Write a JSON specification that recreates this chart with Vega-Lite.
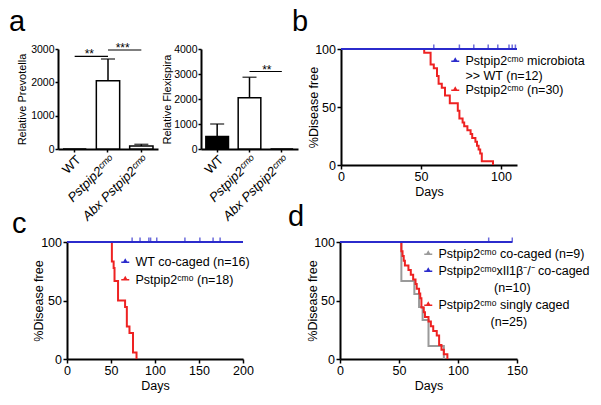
{
  "$schema": "https://vega.github.io/schema/vega-lite/v6.json",
  "padding": {"left": 9, "top": 7, "right": 2, "bottom": 2},
  "datasets": {
    "prev": [
      {"group": "WT", "mean": 0, "upper": 0},
      {"group": "Pstpip2ᶜᵐᵒ", "mean": 2050, "upper": 2700},
      {"group": "Abx Pstpip2ᶜᵐᵒ", "mean": 90, "upper": 140}
    ],
    "prev_sig": [
      {"from": "WT", "to": "Pstpip2ᶜᵐᵒ", "level": 2780, "label": "**"},
      {"from": "Pstpip2ᶜᵐᵒ", "to": "Abx Pstpip2ᶜᵐᵒ", "level": 2970, "label": "***"}
    ],
    "flex": [
      {"group": "WT", "mean": 500, "upper": 1000},
      {"group": "Pstpip2ᶜᵐᵒ", "mean": 2050, "upper": 2870},
      {"group": "Abx Pstpip2ᶜᵐᵒ", "mean": 0, "upper": 0}
    ],
    "flex_sig": [
      {"from": "Pstpip2ᶜᵐᵒ", "to": "Abx Pstpip2ᶜᵐᵒ", "level": 3100, "label": "**"}
    ],
    "km_b": [
      {"series": "Pstpip2ᶜᵐᵒ (n=30)", "day": 0, "surv": 100},
      {"series": "Pstpip2ᶜᵐᵒ (n=30)", "day": 52, "surv": 96.7},
      {"series": "Pstpip2ᶜᵐᵒ (n=30)", "day": 56, "surv": 86.7},
      {"series": "Pstpip2ᶜᵐᵒ (n=30)", "day": 58, "surv": 83.3},
      {"series": "Pstpip2ᶜᵐᵒ (n=30)", "day": 60, "surv": 76.7},
      {"series": "Pstpip2ᶜᵐᵒ (n=30)", "day": 61, "surv": 70},
      {"series": "Pstpip2ᶜᵐᵒ (n=30)", "day": 63, "surv": 66.7},
      {"series": "Pstpip2ᶜᵐᵒ (n=30)", "day": 65, "surv": 60},
      {"series": "Pstpip2ᶜᵐᵒ (n=30)", "day": 68, "surv": 53.3},
      {"series": "Pstpip2ᶜᵐᵒ (n=30)", "day": 73, "surv": 46.7},
      {"series": "Pstpip2ᶜᵐᵒ (n=30)", "day": 74, "surv": 40},
      {"series": "Pstpip2ᶜᵐᵒ (n=30)", "day": 76, "surv": 36.7},
      {"series": "Pstpip2ᶜᵐᵒ (n=30)", "day": 77, "surv": 33.3},
      {"series": "Pstpip2ᶜᵐᵒ (n=30)", "day": 79, "surv": 30},
      {"series": "Pstpip2ᶜᵐᵒ (n=30)", "day": 81, "surv": 26.7},
      {"series": "Pstpip2ᶜᵐᵒ (n=30)", "day": 82, "surv": 23.3},
      {"series": "Pstpip2ᶜᵐᵒ (n=30)", "day": 84, "surv": 20},
      {"series": "Pstpip2ᶜᵐᵒ (n=30)", "day": 85, "surv": 16.7},
      {"series": "Pstpip2ᶜᵐᵒ (n=30)", "day": 86, "surv": 13.3},
      {"series": "Pstpip2ᶜᵐᵒ (n=30)", "day": 87, "surv": 10},
      {"series": "Pstpip2ᶜᵐᵒ (n=30)", "day": 88, "surv": 3.3},
      {"series": "Pstpip2ᶜᵐᵒ (n=30)", "day": 95, "surv": 0},
      {"series": "Pstpip2ᶜᵐᵒ microbiota", "day": 0, "surv": 100},
      {"series": "Pstpip2ᶜᵐᵒ microbiota", "day": 110, "surv": 100}
    ],
    "cens_b": [{"day": 58}, {"day": 74}, {"day": 83}, {"day": 92}, {"day": 98}, {"day": 105}, {"day": 107}, {"day": 109}],
    "km_c": [
      {"series": "Pstpip2ᶜᵐᵒ (n=18)", "day": 0, "surv": 100},
      {"series": "Pstpip2ᶜᵐᵒ (n=18)", "day": 51, "surv": 83.3},
      {"series": "Pstpip2ᶜᵐᵒ (n=18)", "day": 53, "surv": 77.8},
      {"series": "Pstpip2ᶜᵐᵒ (n=18)", "day": 54, "surv": 66.7},
      {"series": "Pstpip2ᶜᵐᵒ (n=18)", "day": 58, "surv": 50},
      {"series": "Pstpip2ᶜᵐᵒ (n=18)", "day": 66, "surv": 44.4},
      {"series": "Pstpip2ᶜᵐᵒ (n=18)", "day": 68, "surv": 27.8},
      {"series": "Pstpip2ᶜᵐᵒ (n=18)", "day": 71, "surv": 22.2},
      {"series": "Pstpip2ᶜᵐᵒ (n=18)", "day": 75, "surv": 5.6},
      {"series": "Pstpip2ᶜᵐᵒ (n=18)", "day": 79, "surv": 0},
      {"series": "WT co-caged (n=16)", "day": 0, "surv": 100},
      {"series": "WT co-caged (n=16)", "day": 200, "surv": 100}
    ],
    "cens_c": [{"day": 74}, {"day": 83}, {"day": 93}, {"day": 95}, {"day": 102}, {"day": 134}, {"day": 151}, {"day": 166}, {"day": 174}],
    "km_d": [
      {"series": "Pstpip2ᶜᵐᵒ co-caged (n=9)", "day": 0, "surv": 100},
      {"series": "Pstpip2ᶜᵐᵒ co-caged (n=9)", "day": 52, "surv": 66.7},
      {"series": "Pstpip2ᶜᵐᵒ co-caged (n=9)", "day": 63, "surv": 55.6},
      {"series": "Pstpip2ᶜᵐᵒ co-caged (n=9)", "day": 67, "surv": 44.4},
      {"series": "Pstpip2ᶜᵐᵒ co-caged (n=9)", "day": 70, "surv": 33.3},
      {"series": "Pstpip2ᶜᵐᵒ co-caged (n=9)", "day": 75, "surv": 11.1},
      {"series": "Pstpip2ᶜᵐᵒ co-caged (n=9)", "day": 88, "surv": 0},
      {"series": "Pstpip2ᶜᵐᵒ singly caged", "day": 0, "surv": 100},
      {"series": "Pstpip2ᶜᵐᵒ singly caged", "day": 52, "surv": 92},
      {"series": "Pstpip2ᶜᵐᵒ singly caged", "day": 53, "surv": 88},
      {"series": "Pstpip2ᶜᵐᵒ singly caged", "day": 54, "surv": 84},
      {"series": "Pstpip2ᶜᵐᵒ singly caged", "day": 55, "surv": 80},
      {"series": "Pstpip2ᶜᵐᵒ singly caged", "day": 58, "surv": 76},
      {"series": "Pstpip2ᶜᵐᵒ singly caged", "day": 60, "surv": 72},
      {"series": "Pstpip2ᶜᵐᵒ singly caged", "day": 62, "surv": 68},
      {"series": "Pstpip2ᶜᵐᵒ singly caged", "day": 64, "surv": 64},
      {"series": "Pstpip2ᶜᵐᵒ singly caged", "day": 65, "surv": 60},
      {"series": "Pstpip2ᶜᵐᵒ singly caged", "day": 67, "surv": 56},
      {"series": "Pstpip2ᶜᵐᵒ singly caged", "day": 68, "surv": 52},
      {"series": "Pstpip2ᶜᵐᵒ singly caged", "day": 69, "surv": 44},
      {"series": "Pstpip2ᶜᵐᵒ singly caged", "day": 71, "surv": 40},
      {"series": "Pstpip2ᶜᵐᵒ singly caged", "day": 72, "surv": 36},
      {"series": "Pstpip2ᶜᵐᵒ singly caged", "day": 75, "surv": 32},
      {"series": "Pstpip2ᶜᵐᵒ singly caged", "day": 77, "surv": 28},
      {"series": "Pstpip2ᶜᵐᵒ singly caged", "day": 79, "surv": 24},
      {"series": "Pstpip2ᶜᵐᵒ singly caged", "day": 82, "surv": 20},
      {"series": "Pstpip2ᶜᵐᵒ singly caged", "day": 84, "surv": 12},
      {"series": "Pstpip2ᶜᵐᵒ singly caged", "day": 86, "surv": 8},
      {"series": "Pstpip2ᶜᵐᵒ singly caged", "day": 88, "surv": 4},
      {"series": "Pstpip2ᶜᵐᵒ singly caged", "day": 91, "surv": 0},
      {"series": "Pstpip2ᶜᵐᵒxIl1β⁻/⁻ co-caged", "day": 0, "surv": 100},
      {"series": "Pstpip2ᶜᵐᵒxIl1β⁻/⁻ co-caged", "day": 146, "surv": 100}
    ],
    "cens_d": [{"day": 126}, {"day": 146}]
  },
  "vconcat": [
    {
      "hconcat": [
        {
          "width": 100, "height": 100,
          "title": {"text": "a", "anchor": "start", "frame": "group", "fontSize": 29, "fontWeight": "normal", "font": "Liberation Sans", "color": "black", "baseline": "alphabetic", "dx": -49, "offset": -17.5},
          "encoding": {
            "x": {"field": "group", "type": "nominal", "sort": null,
              "scale": {"domain": ["WT", "Pstpip2ᶜᵐᵒ", "Abx Pstpip2ᶜᵐᵒ"], "paddingInner": 0.3, "paddingOuter": 0.15},
              "axis": {"title": null, "labelAngle": -45, "labelFontSize": 13, "tickSize": 3, "labelPadding": 1,
                "labelFontStyle": {"condition": {"test": "datum.value == 'WT'", "value": "normal"}, "value": "italic"}}},
            "y": {"field": "mean", "type": "quantitative", "scale": {"domain": [0, 3000], "nice": false},
              "axis": {"tickCount": 3, "format": "d", "labelOverlap": false, "title": "Relative Prevotella", "labelFontSize": 10.5, "titleFontSize": 11, "tickSize": 3, "labelPadding": 1, "titlePadding": 3}}
          },
          "layer": [
            {
              "data": {"name": "prev"},
              "mark": {"type": "bar", "stroke": "black", "strokeWidth": 1.5},
              "encoding": {
                "fill": {"condition": {"test": "datum.group == 'WT'", "value": "black"}, "value": "white"}
              }
            },
            {
              "data": {"name": "prev"},
              "transform": [{"filter": "datum.upper > datum.mean"}],
              "mark": {"type": "rule", "strokeWidth": 1.5, "color": "black"},
              "encoding": {"y2": {"field": "upper"}}
            },
            {
              "data": {"name": "prev"},
              "transform": [{"filter": "datum.upper > datum.mean"}],
              "mark": {"type": "tick", "orient": "horizontal", "size": 14, "thickness": 1.5, "color": "black"},
              "encoding": {"y": {"field": "upper", "type": "quantitative"}}
            },
            {
              "data": {"name": "prev_sig"},
              "mark": {"type": "rule", "strokeWidth": 1.2, "color": "black"},
              "encoding": {
                "x": {"field": "from", "type": "nominal"},
                "x2": {"field": "to"},
                "y": {"field": "level", "type": "quantitative"}
              }
            },
            {
              "data": {"name": "prev_sig"},
              "mark": {"type": "text", "fontSize": 12, "baseline": "alphabetic", "dy": 2, "dx": 3, "color": "black"},
              "encoding": {
                "x": {"field": "from", "type": "nominal", "bandPosition": 1},
                "y": {"field": "level", "type": "quantitative"},
                "text": {"field": "label"}
              }
            }
          ]
        },
        {
          "width": 97, "height": 100,
          "encoding": {
            "x": {"field": "group", "type": "nominal", "sort": null,
              "scale": {"domain": ["WT", "Pstpip2ᶜᵐᵒ", "Abx Pstpip2ᶜᵐᵒ"], "paddingInner": 0.3, "paddingOuter": 0.15},
              "axis": {"title": null, "labelAngle": -45, "labelFontSize": 13, "tickSize": 3, "labelPadding": 1,
                "labelFontStyle": {"condition": {"test": "datum.value == 'WT'", "value": "normal"}, "value": "italic"}}},
            "y": {"field": "mean", "type": "quantitative", "scale": {"domain": [0, 4000], "nice": false},
              "axis": {"tickCount": 4, "format": "d", "labelOverlap": false, "title": "Relative Flexispira", "labelFontSize": 10.5, "titleFontSize": 11, "tickSize": 3, "labelPadding": 1, "titlePadding": 1}}
          },
          "layer": [
            {
              "data": {"name": "flex"},
              "mark": {"type": "bar", "stroke": "black", "strokeWidth": 1.5},
              "encoding": {
                "fill": {"condition": {"test": "datum.group == 'WT'", "value": "black"}, "value": "white"}
              }
            },
            {
              "data": {"name": "flex"},
              "transform": [{"filter": "datum.upper > datum.mean"}],
              "mark": {"type": "rule", "strokeWidth": 1.5, "color": "black"},
              "encoding": {"y2": {"field": "upper"}}
            },
            {
              "data": {"name": "flex"},
              "transform": [{"filter": "datum.upper > datum.mean"}],
              "mark": {"type": "tick", "orient": "horizontal", "size": 14, "thickness": 1.5, "color": "black"},
              "encoding": {"y": {"field": "upper", "type": "quantitative"}}
            },
            {
              "data": {"name": "flex_sig"},
              "mark": {"type": "rule", "strokeWidth": 1.2, "color": "black"},
              "encoding": {
                "x": {"field": "from", "type": "nominal"},
                "x2": {"field": "to"},
                "y": {"field": "level", "type": "quantitative"}
              }
            },
            {
              "data": {"name": "flex_sig"},
              "mark": {"type": "text", "fontSize": 12, "baseline": "alphabetic", "dy": 2, "dx": 6, "color": "black"},
              "encoding": {
                "x": {"field": "from", "type": "nominal", "bandPosition": 1},
                "y": {"field": "level", "type": "quantitative"},
                "text": {"field": "label"}
              }
            }
          ]
        },
        {
          "width": 176, "height": 116,
          "title": {"text": "b", "anchor": "start", "frame": "group", "fontSize": 29, "fontWeight": "normal", "font": "Liberation Sans", "color": "black", "baseline": "alphabetic", "dx": -49, "offset": -17},
          "layer": [
            {
              "data": {"name": "km_b"},
              "mark": {"type": "line", "interpolate": "step-after", "strokeWidth": 2},
              "encoding": {
                "x": {"field": "day", "type": "quantitative", "scale": {"domain": [0, 110], "nice": false},
                  "axis": {"values": [0, 50, 100], "title": "Days"}},
                "y": {"field": "surv", "type": "quantitative", "scale": {"domain": [0, 100]},
                  "axis": {"values": [0, 50, 100], "title": "%Disease free", "titlePadding": -6}},
                "color": {"field": "series", "type": "nominal",
                  "scale": {"domain": ["Pstpip2ᶜᵐᵒ microbiota", ">> WT (n=12)", "Pstpip2ᶜᵐᵒ (n=30)"], "range": ["#2b2bcc", "transparent", "#ee2222"]},
                  "legend": {"orient": "none", "legendX": 108, "legendY": 6, "title": null, "rowPadding": 1.5}}
              }
            },
            {
              "data": {"name": "cens_b"},
              "mark": {"type": "tick", "orient": "vertical", "size": 5, "thickness": 1.5, "color": "#2b2bcc", "yOffset": -2},
              "encoding": {
                "x": {"field": "day", "type": "quantitative"},
                "y": {"datum": 100, "type": "quantitative"}
              }
            }
          ]
        }
      ],
      "spacing": 43,
      "bounds": "flush",
      "resolve": {"scale": {"color": "independent"}, "legend": {"color": "independent"}}
    },
    {
      "hconcat": [
        {
          "hconcat": [
            {
              "width": 9, "height": 10,
              "data": {"values": [{"k": 1}]},
              "mark": {"type": "point", "opacity": 0},
              "encoding": {}
            },
            {
              "width": 176, "height": 117,
              "title": {"text": "c", "anchor": "start", "frame": "group", "fontSize": 29, "fontWeight": "normal", "font": "Liberation Sans", "color": "black", "baseline": "alphabetic", "dx": -55, "offset": -26},
              "layer": [
                {
                  "data": {"name": "km_c"},
                  "mark": {"type": "line", "interpolate": "step-after", "strokeWidth": 2},
                  "encoding": {
                    "x": {"field": "day", "type": "quantitative", "scale": {"domain": [0, 200], "nice": false},
                      "axis": {"values": [0, 50, 100, 150, 200], "title": "Days"}},
                    "y": {"field": "surv", "type": "quantitative", "scale": {"domain": [0, 100]},
                      "axis": {"values": [0, 50, 100], "title": "%Disease free", "titlePadding": -5}},
                    "color": {"field": "series", "type": "nominal",
                      "scale": {"domain": ["WT co-caged (n=16)", "Pstpip2ᶜᵐᵒ (n=18)"], "range": ["#2b2bcc", "#ee2222"]},
                      "legend": {"orient": "none", "legendX": 52, "legendY": 14, "title": null, "rowPadding": 4.5}}
                  }
                },
                {
                  "data": {"name": "cens_c"},
                  "mark": {"type": "tick", "orient": "vertical", "size": 5, "thickness": 1.5, "color": "#2b2bcc", "yOffset": -2},
                  "encoding": {
                    "x": {"field": "day", "type": "quantitative"},
                    "y": {"datum": 100, "type": "quantitative"}
                  }
                }
              ]
            }
          ],
          "spacing": 0,
          "bounds": "flush",
          "resolve": {"scale": {"color": "independent"}, "legend": {"color": "independent"}}
        },
        {
          "width": 177, "height": 117,
          "title": {"text": "d", "anchor": "start", "frame": "group", "fontSize": 29, "fontWeight": "normal", "font": "Liberation Sans", "color": "black", "baseline": "alphabetic", "dx": -52, "offset": -18.5},
          "layer": [
            {
              "data": {"name": "km_d"},
              "mark": {"type": "line", "interpolate": "step-after", "strokeWidth": 2},
              "encoding": {
                "x": {"field": "day", "type": "quantitative", "scale": {"domain": [0, 150], "nice": false},
                  "axis": {"values": [0, 50, 100, 150], "title": "Days"}},
                "y": {"field": "surv", "type": "quantitative", "scale": {"domain": [0, 100]},
                  "axis": {"values": [0, 50, 100], "title": "%Disease free", "titlePadding": -6}},
                "color": {"field": "series", "type": "nominal",
                  "scale": {"domain": ["Pstpip2ᶜᵐᵒ co-caged (n=9)", "Pstpip2ᶜᵐᵒxIl1β⁻/⁻ co-caged", "(n=10)", "Pstpip2ᶜᵐᵒ singly caged", "(n=25)"],
                    "range": ["#9a9a9a", "#2b2bcc", "transparent", "#ee2222", "transparent"]},
                  "legend": {"orient": "none", "legendX": 82, "legendY": 6, "title": null, "rowPadding": 4,
                    "labelExpr": "datum.label == '(n=10)' ? '\u200b\u00a0\u00a0\u00a0\u00a0\u00a0\u00a0\u00a0\u00a0\u00a0\u00a0\u00a0\u00a0\u00a0\u00a0\u00a0\u00a0(n=10)' : datum.label == '(n=25)' ? '\u200b\u00a0\u00a0\u00a0\u00a0\u00a0\u00a0\u00a0\u00a0\u00a0\u00a0\u00a0\u00a0\u00a0\u00a0\u00a0(n=25)' : datum.label"}}
              }
            },
            {
              "data": {"name": "cens_d"},
              "mark": {"type": "tick", "orient": "vertical", "size": 5, "thickness": 1.5, "color": "#2b2bcc", "yOffset": -2},
              "encoding": {
                "x": {"field": "day", "type": "quantitative"},
                "y": {"datum": 100, "type": "quantitative"}
              }
            }
          ]
        }
      ],
      "spacing": 282,
      "bounds": "flush",
      "resolve": {"scale": {"color": "independent"}, "legend": {"color": "independent"}}
    }
  ],
  "spacing": 193,
  "bounds": "flush",
  "resolve": {"scale": {"color": "independent"}, "legend": {"color": "independent"}},
  "config": {
    "view": {"stroke": null},
    "font": "Liberation Sans",
    "axis": {
      "domainColor": "black", "domainWidth": 2, "tickColor": "black", "tickWidth": 1.5, "tickSize": 4,
      "labelColor": "black", "titleColor": "black", "titleFontWeight": "normal", "grid": false,
      "labelFont": "Liberation Sans", "titleFont": "Liberation Sans", "labelFontSize": 12.5, "titleFontSize": 12.5,
      "labelPadding": 1.5, "titlePadding": 2, "labelFlush": false
    },
    "legend": {
      "labelFont": "Liberation Sans", "labelColor": "black", "labelFontSize": 12.5, "labelOffset": 4,
      "symbolType": "M-1,0L1,0M-0.35,0L0,-0.6L0.35,0Z", "symbolSize": 64, "symbolStrokeWidth": 1.5, "padding": 0, "labelLimit": 250
    }
  }
}
